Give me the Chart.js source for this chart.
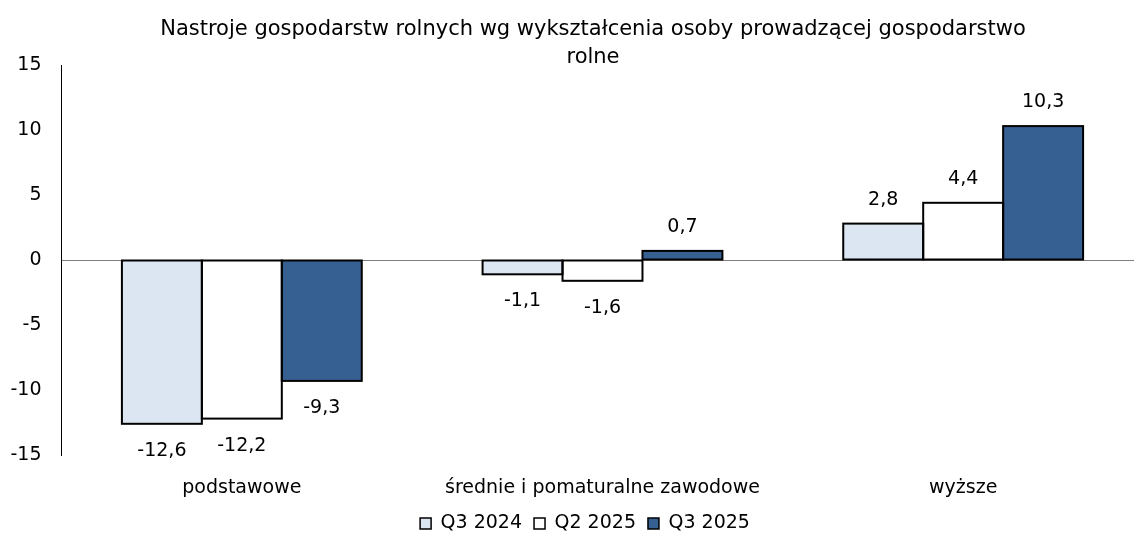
<!DOCTYPE html>
<html>
<head>
<meta charset="utf-8">
<script src="https://cdn.jsdelivr.net/npm/chart.js@4/dist/chart.umd.min.js"></script>
<style>
  html, body { margin: 0; padding: 0; background: #fff; overflow: hidden; }
  #wrap { width: 1186px; height: 549px; }
</style>
</head>
<body>
<div id="wrap"><canvas id="chart"></canvas></div>
<script>
const categories = ["podstawowe", "średnie i pomaturalne zawodowe", "wyższe"];
const seriesNames = ["Q3 2024", "Q2 2025", "Q3 2025"];
const q3_2024 = [-12.6, -1.1, 2.8];
const q2_2025 = [-12.2, -1.6, 4.4];
const q3_2025 = [-9.3, 0.7, 10.3];
const yTicks = [15, 10, 5, 0, -5, -10, -15];
const titleLines = ["Nastroje gospodarstw rolnych wg wykształcenia osoby prowadzącej gospodarstwo", "rolne"];

const FONT = "DejaVu Sans";
const colors = ["#dce6f2", "#ffffff", "#376092"];

// tytuł rysowany ręcznie, żeby nie przesuwał obszaru wykresu
const titlePlugin = {
  id: "titlePlugin",
  afterDraw(chart) {
    const ctx = chart.ctx;
    ctx.save();
    ctx.font = "21px '" + FONT + "'";
    ctx.fillStyle = "#000";
    ctx.textAlign = "center";
    ctx.textBaseline = "middle";
    titleLines.forEach((t, i) => ctx.fillText(t, 593, 30 + i * 28));
    ctx.restore();
  }
};

// obramowania słupków + wartości nad / pod słupkami
const barExtras = {
  id: "barExtras",
  afterDatasetsDraw(chart) {
    const ctx = chart.ctx;
    ctx.save();
    ctx.strokeStyle = "#000";
    ctx.lineWidth = 2;
    chart.data.datasets.forEach((ds, i) => {
      chart.getDatasetMeta(i).data.forEach((bar) => {
        const top = Math.min(bar.y, bar.base);
        const h = Math.abs(bar.base - bar.y);
        ctx.strokeRect(bar.x - bar.width / 2, top, bar.width, h);
      });
    });
    ctx.font = "19px '" + FONT + "'";
    ctx.fillStyle = "#000";
    ctx.textAlign = "center";
    ctx.textBaseline = "middle";
    chart.data.datasets.forEach((ds, i) => {
      chart.getDatasetMeta(i).data.forEach((bar, j) => {
        const v = ds.data[j];
        const y = v >= 0 ? bar.y - 24 : bar.y + 27;
        ctx.fillText(v.toFixed(1).replace(".", ","), bar.x, y);
      });
    });
    ctx.restore();
  }
};

new Chart(document.getElementById("chart"), {
  type: "bar",
  data: {
    labels: categories,
    datasets: [q3_2024, q2_2025, q3_2025].map((d, i) => ({
      label: seriesNames[i],
      data: d,
      backgroundColor: colors[i],
      borderWidth: 0,
      barPercentage: 1,
      categoryPercentage: 0.665
    }))
  },
  options: {
    responsive: true,
    maintainAspectRatio: false,
    animation: false,
    layout: { padding: { left: 0, right: 16, top: 65, bottom: 6 } },
    plugins: {
      title: { display: false },
      legend: {
        position: "bottom",
        labels: {
          color: "#000",
          font: { family: FONT, size: 19 },
          boxWidth: 11,
          boxHeight: 11,
          padding: 12,
          generateLabels: (chart) =>
            Chart.defaults.plugins.legend.labels.generateLabels(chart).map(l => ({
              ...l, strokeStyle: "#000", lineWidth: 1.5
            }))
        }
      },
      tooltip: { enabled: false }
    },
    scales: {
      x: {
        grid: { display: false, drawTicks: false },
        border: { display: false },
        ticks: { color: "#000", font: { family: FONT, size: 19 }, padding: 22 },
        afterFit: (axis) => { axis.height = 47; }
      },
      y: {
        min: -15,
        max: 15,
        afterBuildTicks: (axis) => { axis.ticks = yTicks.map(v => ({ value: v })); },
        afterFit: (axis) => { axis.width = 61.5; },
        grid: {
          drawTicks: false,
          color: (c) => (c.tick && c.tick.value === 0 ? "#7f7f7f" : "transparent")
        },
        border: { display: true, color: "#000", width: 1 },
        ticks: {
          color: "#000",
          font: { family: FONT, size: 19 },
          padding: 20,
          callback: (v) => String(v)
        }
      },
      // pusta oś po prawej – tylko rezerwuje miejsce, żeby legenda była wyśrodkowana jak w oryginale
      y2: {
        position: "right",
        min: -15,
        max: 15,
        grid: { display: false },
        border: { display: false },
        ticks: { display: false },
        afterFit: (axis) => { axis.width = 26.5; }
      }
    }
  },
  plugins: [barExtras, titlePlugin]
});
</script>
</body>
</html>
